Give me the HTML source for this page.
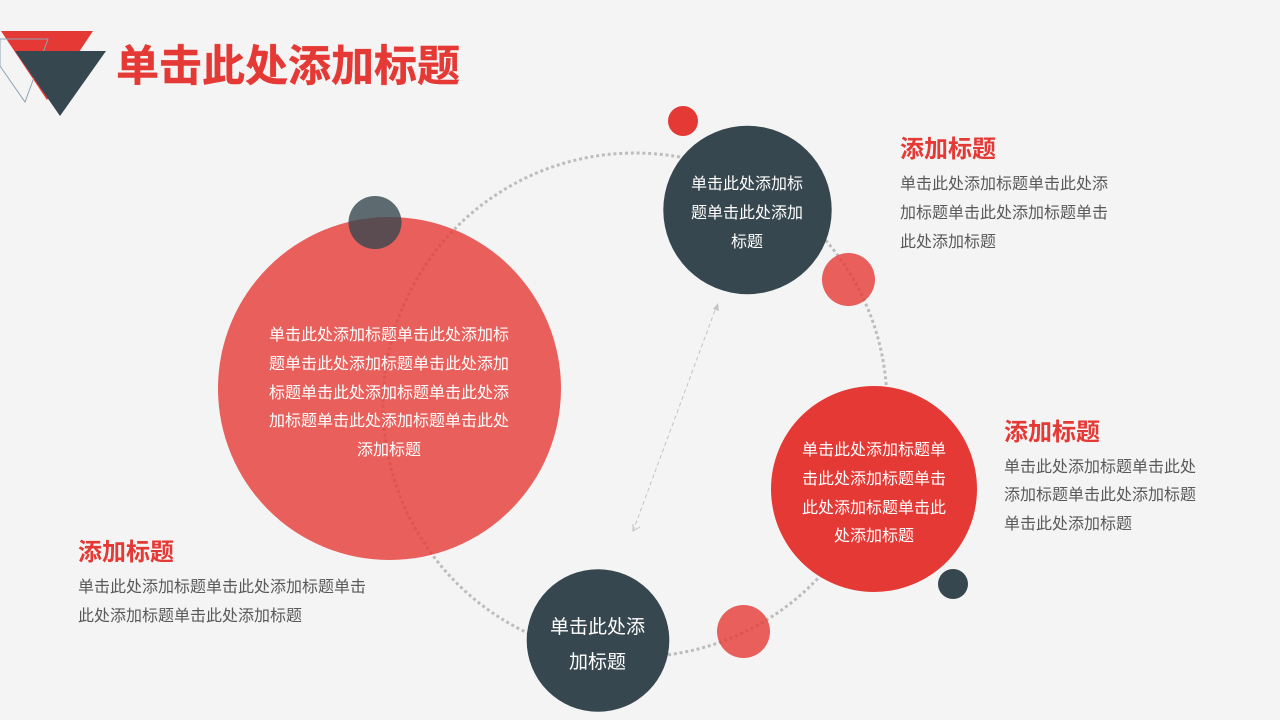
<!DOCTYPE html>
<html><head><meta charset="utf-8">
<style>
html,body{margin:0;padding:0;background:#f4f4f4}
#p{position:relative;width:1280px;height:720px;overflow:hidden;background:#f4f4f4;font-family:"Liberation Sans","Noto Sans CJK SC",sans-serif}
svg{position:absolute;left:0;top:0}
.t{position:absolute;white-space:nowrap}
.h{font-size:24px;font-weight:bold;color:#e53935;line-height:32px}
.b{font-size:16px;color:#595959;line-height:28.8px}
.c{color:#fff;font-size:16px;line-height:28.8px;text-align:center}
</style></head><body><div id="p">
<svg width="1280" height="720" viewBox="0 0 1280 720">
<polygon points="1,31 93,31 47,100" fill="#e53935"/>
<polygon points="0,39 48,39 25,102 0,66" fill="none" stroke="#8fa3b3" stroke-width="1"/>
<polygon points="15,51 106,51 60,116" fill="#37474f"/>
<circle cx="635" cy="405" r="252" fill="none" stroke="#bdbdbd" stroke-width="3" stroke-dasharray="3 2.800"/>
<line x1="633" y1="531" x2="717" y2="305" stroke="#c4c4c4" stroke-width="1" stroke-dasharray="4 3"/>
<polygon points="718,303 719,311 713,309" fill="#c4c4c4"/>
<polyline points="633,524 633,531 640,527" fill="none" stroke="#c4c4c4" stroke-width="1"/>
<circle cx="389.5" cy="388.5" r="171.5" fill="#e53935" fill-opacity=".8"/>
<circle cx="375" cy="222.500" r="26.500" fill="#37474f" fill-opacity=".8"/>
<circle cx="683" cy="121" r="15" fill="#e53935"/>
<circle cx="747.500" cy="210" r="84.200" fill="#37474f"/>
<circle cx="848.500" cy="279.500" r="26.500" fill="#e53935" fill-opacity=".8"/>
<circle cx="874" cy="489" r="103" fill="#e53935"/>
<circle cx="953" cy="584" r="15" fill="#37474f"/>
<circle cx="743.500" cy="631.500" r="26.500" fill="#e53935" fill-opacity=".8"/>
<circle cx="598" cy="640.500" r="71.300" fill="#37474f"/>
</svg>
<div class="t" style="left:116px;top:38px;font-size:43px;font-weight:bold;color:#e53935;line-height:58px;-webkit-text-stroke:.4px #e53935">单击此处添加标题</div>

<div class="t c" style="left:229px;width:320px;top:322px">单击此处添加标题单击此处添加标<br>题单击此处添加标题单击此处添加<br>标题单击此处添加标题单击此处添<br>加标题单击此处添加标题单击此处<br>添加标题</div>
<div class="t c" style="left:667px;width:160px;top:171px">单击此处添加标<br>题单击此处添加<br>标题</div>
<div class="t c" style="left:774px;width:200px;top:437px">单击此处添加标题单<br>击此处添加标题单击<br>此处添加标题单击此<br>处添加标题</div>
<div class="t c" style="left:537.500px;width:120px;top:610px;font-size:19px;line-height:35px">单击此处添<br>加标题</div>

<div class="t h" style="left:900px;top:134px">添加标题</div>
<div class="t b" style="left:900px;top:171px">单击此处添加标题单击此处添<br>加标题单击此处添加标题单击<br>此处添加标题</div>
<div class="t h" style="left:1004px;top:417px">添加标题</div>
<div class="t b" style="left:1004px;top:453.500px">单击此处添加标题单击此处<br>添加标题单击此处添加标题<br>单击此处添加标题</div>
<div class="t h" style="left:78px;top:537px">添加标题</div>
<div class="t b" style="left:78px;top:574px">单击此处添加标题单击此处添加标题单击<br>此处添加标题单击此处添加标题</div>
</div></body></html>
